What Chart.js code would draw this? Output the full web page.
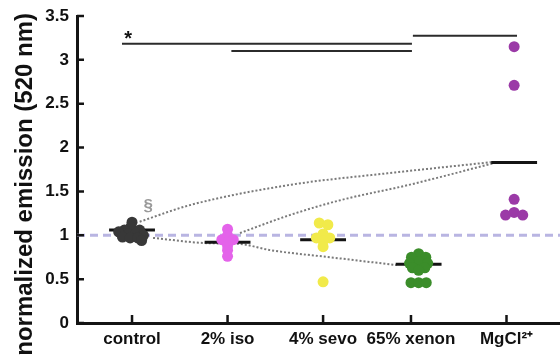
<!DOCTYPE html>
<html>
<head>
<meta charset="utf-8">
<script src="https://cdn.jsdelivr.net/npm/chart.js@4.4.1/dist/chart.umd.min.js"></script>
<style>
  html, body { margin: 0; padding: 0; background: #fff; }
  #wrap { width: 560px; height: 356px; position: relative; }
</style>
</head>
<body>
<div id="wrap"><canvas id="emissionChart"></canvas></div>
<script>
// categories and where their tick labels sit on the x axis
const categories = ["control", "2% iso", "4% sevo", "65% xenon", "MgCl\u00B2\u207A"];
const tickPositions = [0, 1, 2, 2.92, 3.92];
const yTicks = [0, 0.5, 1, 1.5, 2, 2.5, 3, 3.5];

// individual measurements (normalized emission) and small sideways offsets (beeswarm)
const controlVals = [1.15, 1.10, 1.06, 1.06, 1.04, 1.02, 1.02, 1.00, 0.98, 0.97, 0.97, 0.94];
const controlOffsets = [0, -0.01, -0.08, 0.08, -0.14, -0.04, 0.04, 0.12, -0.10, -0.02, 0.06, 0.10];
const isoVals = [1.07, 1.00, 0.95, 0.95, 0.92, 0.88, 0.83, 0.76];
const isoOffsets = [0, 0, -0.06, 0.06, 0, 0, 0, 0];
const sevoVals = [1.14, 1.12, 1.015, 0.97, 0.97, 0.935, 0.87, 0.47];
const sevoOffsets = [-0.04, 0.05, 0, -0.07, 0.07, 0, 0, 0];
const xenonVals = [0.79, 0.75, 0.75, 0.70, 0.68, 0.68, 0.63, 0.63, 0.60, 0.46, 0.46, 0.46];
const xenonOffsets = [0, -0.075, 0.075, 0, -0.095, 0.095, -0.065, 0.065, 0, -0.08, 0, 0.08];
const mgVals = [3.15, 2.71, 1.41, 1.23, 1.26, 1.23];
const mgOffsets = [0, 0, 0, -0.09, 0, 0.09];

// group means (black bars)
const means = [1.06, 0.92, 0.95, 0.67, 1.83];

// significance brackets: [from x, to x, y]
const sigBars = [
    [-0.105, 2.93, 3.185],
    [1.04, 2.93, 3.10],
    [2.94, 4.03, 3.276]
];

// dotted connector curves (x, y)
const curveUpper = [[0.08, 1.155], [0.61, 1.345], [1.65, 1.574], [2.70, 1.71], [3.78, 1.836]];
const curveMiddle = [[1.13, 1.026], [1.65, 1.23], [2.18, 1.40], [2.88, 1.57], [3.78, 1.82]];
const curveLower = [[0.22, 0.97], [0.79, 0.91], [1.13, 0.90], [1.45, 0.83], [2.07, 0.75], [2.77, 0.66]];

const referenceLevel = 1;
const xMin = -0.576, xMax = 4.48;

const groupColors = ["#383838", "#e463ea", "#f1ea4a", "#3b8d2a", "#9b3aa7"];
const groupVals = [controlVals, isoVals, sevoVals, xenonVals, mgVals];
const groupOffsets = [controlOffsets, isoOffsets, sevoOffsets, xenonOffsets, mgOffsets];

const datasets = [];

// dots
groupVals.forEach((vals, g) => {
    datasets.push({
        data: vals.map((v, i) => ({ x: g + groupOffsets[g][i], y: v })),
        backgroundColor: groupColors[g],
        borderWidth: 0,
        pointRadius: 5.5,
        pointHoverRadius: 5.5,
        order: 1
    });
});

// mean bars
means.forEach((m, g) => {
    datasets.push({
        data: [{ x: g - 0.24, y: m }, { x: g + 0.24, y: m }],
        showLine: true,
        borderColor: "#141414",
        borderWidth: 3,
        pointRadius: 0,
        order: 2
    });
});

// significance lines
sigBars.forEach(b => {
    datasets.push({
        data: [{ x: b[0], y: b[2] }, { x: b[1], y: b[2] }],
        showLine: true,
        borderColor: "#2b2b2b",
        borderWidth: 2,
        pointRadius: 0,
        order: 2
    });
});

// dotted curves
[curveUpper, curveMiddle, curveLower].forEach(c => {
    datasets.push({
        data: c.map(p => ({ x: p[0], y: p[1] })),
        showLine: true,
        cubicInterpolationMode: "monotone",
        borderColor: "#7a7a7a",
        borderWidth: 2,
        borderDash: [2, 2],
        pointRadius: 0,
        order: 3
    });
});

// reference line at 1
datasets.push({
    data: [{ x: xMin, y: referenceLevel }, { x: xMax, y: referenceLevel }],
    showLine: true,
    borderColor: "#b9b5e2",
    borderWidth: 3,
    borderDash: [8, 5],
    pointRadius: 0,
    order: 4
});

const extras = {
    id: "extras",
    afterDraw(chart) {
        const ctx = chart.ctx;
        const xs = chart.scales.x, ys = chart.scales.y;
        const area = chart.chartArea;
        ctx.save();

        // inward tick marks
        ctx.strokeStyle = "#141414";
        ctx.lineWidth = 2.5;
        ctx.beginPath();
        yTicks.forEach(v => {
            const py = ys.getPixelForValue(v);
            ctx.moveTo(area.left, py);
            ctx.lineTo(area.left + 7, py);
        });
        tickPositions.forEach(v => {
            const px = xs.getPixelForValue(v);
            ctx.moveTo(px, area.bottom);
            ctx.lineTo(px, area.bottom - 8);
        });
        ctx.stroke();

        // asterisk over first bracket
        ctx.fillStyle = "#111";
        ctx.font = "bold 20px 'Liberation Sans', Arial, sans-serif";
        ctx.textAlign = "center";
        ctx.textBaseline = "alphabetic";
        ctx.fillText("*", xs.getPixelForValue(-0.04), ys.getPixelForValue(3.185) + 1);

        // section sign next to control
        ctx.fillStyle = "#9a9a9a";
        ctx.font = "bold 17px 'Liberation Sans', Arial, sans-serif";
        ctx.fillText("\u00A7", xs.getPixelForValue(0.17), ys.getPixelForValue(1.28));

        // y axis title
        ctx.fillStyle = "#111";
        ctx.font = "bold 24px 'Liberation Sans', Arial, sans-serif";
        ctx.translate(32, 13);
        ctx.rotate(-Math.PI / 2);
        ctx.textAlign = "right";
        ctx.fillText("normalized emission (520 nm)", 0, 0);
        ctx.restore();
    }
};

function noPad(scale) {
    scale.paddingTop = 0;
    scale.paddingBottom = 0;
    scale.paddingLeft = 0;
    scale.paddingRight = 0;
}

new Chart(document.getElementById("emissionChart"), {
    type: "scatter",
    data: { datasets: datasets },
    options: {
        responsive: true,
        maintainAspectRatio: false,
        animation: false,
        layout: { autoPadding: false, padding: { top: 16, right: 0, left: 0, bottom: 0 } },
        plugins: {
            legend: { display: false },
            tooltip: { enabled: false }
        },
        scales: {
            x: {
                type: "linear",
                min: xMin,
                max: xMax,
                afterFit(scale) { scale.height = 33; noPad(scale); },
                afterBuildTicks(scale) { scale.ticks = tickPositions.map(v => ({ value: v })); },
                border: { display: true, color: "#141414", width: 3 },
                grid: { display: false, drawTicks: false },
                ticks: {
                    autoSkip: false,
                    maxRotation: 0,
                    padding: 6,
                    color: "#111",
                    font: { family: "'Liberation Sans', Arial, sans-serif", size: 17, weight: "bold" },
                    callback: (value, index) => categories[index]
                }
            },
            y: {
                min: 0,
                max: 3.5,
                afterFit(scale) { scale.width = 77; noPad(scale); },
                afterBuildTicks(scale) { scale.ticks = yTicks.map(v => ({ value: v })); },
                border: { display: true, color: "#141414", width: 3 },
                grid: { display: false, drawTicks: false },
                ticks: {
                    padding: 8,
                    color: "#111",
                    font: { family: "'Liberation Sans', Arial, sans-serif", size: 17, weight: "bold" },
                    callback: v => String(v)
                }
            }
        }
    },
    plugins: [extras]
});
</script>
</body>
</html>
